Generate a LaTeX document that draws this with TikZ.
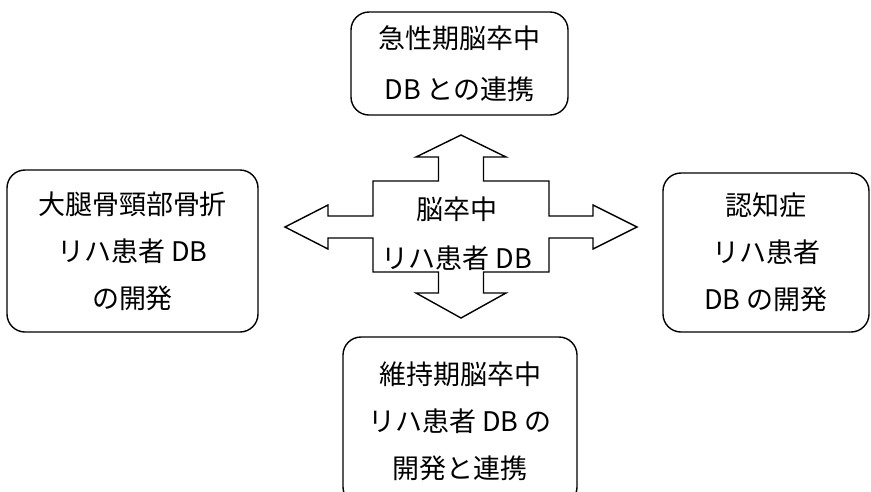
\documentclass[tikz,border=0pt]{standalone}
\usepackage{fontspec}
\setmainfont{Noto Sans CJK JP}

\begin{document}
\begin{tikzpicture}[x=1pt, y=-1pt,
  dbbox/.style={draw, line width=1.4pt, rounded corners=18pt, align=center,
    inner sep=0pt, font=\fontsize{27}{47}\selectfont},
  hubarrow/.style={draw, line width=1.4pt, line join=miter}]
\useasboundingbox (0,0) rectangle (871,491);

% four-way arrow in the middle
\begin{scope}[shift={(461,227)}]
\draw[hubarrow] (0,-92) -- (45,-70) -- (22.5,-70) -- (22.5,-46) -- (88,-46)
  -- (88,-11) -- (132,-11) -- (132,-22) -- (176,0) -- (132,22) -- (132,11)
  -- (88,11) -- (88,45) -- (22.5,45) -- (22.5,66) -- (45,66) -- (0,91)
  -- (-45,66) -- (-22.5,66) -- (-22.5,45) -- (-88,45) -- (-88,11)
  -- (-133,11) -- (-133,22) -- (-176,0) -- (-133,-22) -- (-133,-11)
  -- (-88,-11) -- (-88,-46) -- (-22.5,-46) -- (-22.5,-70) -- (-45,-70)
  -- cycle;
\end{scope}
\node[align=center, inner sep=0pt, font=\fontsize{27}{49}\selectfont]
  (hub) at (457,234) {脳卒中\\リハ患者 DB};

% the four databases
\node[dbbox, minimum width=217, minimum height=103,
  font=\fontsize{27}{51}\selectfont]
  (acute) at (459.5,63.5) {急性期脳卒中\\DB との連携};
\node[dbbox, minimum width=251, minimum height=162]
  (hip) at (132.5,251) {大腿骨頸部骨折\\リハ患者 DB\\の開発};
\node[dbbox, minimum width=206, minimum height=159]
  (dementia) at (766,252.5) {認知症\\リハ患者\\DB の開発};
\node[dbbox, minimum width=234, minimum height=168]
  (chronic) at (460,421) {維持期脳卒中\\リハ患者 DB の\\開発と連携};
\end{tikzpicture}
\end{document}
